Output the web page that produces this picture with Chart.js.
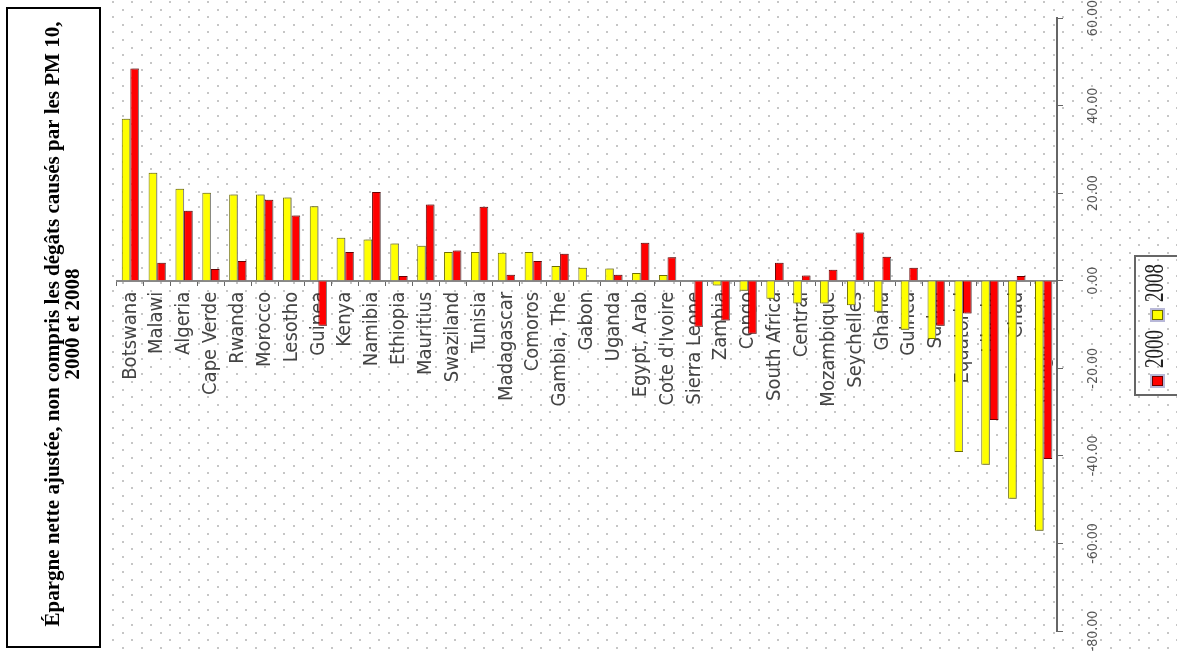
<!DOCTYPE html>
<html><head><meta charset="utf-8">
<script src="https://cdn.jsdelivr.net/npm/chart.js@4.4.1/dist/chart.umd.min.js"></script>
<style>html,body{margin:0;padding:0;background:#fff;overflow:hidden}canvas{display:block}</style>
</head><body>
<canvas id="c" width="1177" height="654"></canvas>
<script>
// ---------------- data ----------------
const categories = ['Botswana','Malawi','Algeria','Cape Verde','Rwanda','Morocco','Lesotho','Guinea','Kenya','Namibia',
  'Ethiopia','Mauritius','Swaziland','Tunisia','Madagascar','Comoros','Gambia, The','Gabon','Uganda','Egypt, Arab',
  "Cote d'Ivoire",'Sierra Leone','Zambia','Congo','South Africa','Central','Mozambique','Seychelles','Ghana','Guinea',
  'Sudan','Equatorial','Liberia','Chad','Congo, Dem'];
// yellow series
const values2008 = [37.0,24.7,21.0,20.1,19.7,19.7,19.0,17.0,9.8,9.4,
  8.5,8.0,6.6,6.6,6.4,6.6,3.4,3.0,2.8,1.8,
  1.3,null,-1.1,-2.3,-4.1,-5.2,-5.2,-5.6,-7.1,-11.2,
  -13.3,-39.1,-42.0,-49.8,-57.1];
// red series
const values2000 = [48.5,4.1,16.0,2.7,4.5,18.5,14.9,-10.3,6.6,20.3,
  1.1,17.4,6.9,16.9,1.4,4.5,6.2,null,1.4,8.7,
  5.4,-10.5,-9.1,-12.1,4.1,1.2,2.5,11.0,5.5,3.0,
  -10.3,-7.5,-31.8,1.1,-40.7];
const seriesNames = ['2008','2000'];
const titleLines = ['Épargne nette ajustée, non compris les dégâts causés par les PM 10,','2000 et 2008'];
const yMin = -80, yMax = 60, yStep = 20;

// ---------------- fonts ----------------
function fontAvailable(name){
  const c = document.createElement('canvas').getContext('2d');
  const s = 'abcdefghijklmnopqrstuvwxyz0123456789ABCDEFGH';
  c.font = '40px monospace'; const a = c.measureText(s).width;
  c.font = '40px "' + name + '", monospace'; const b = c.measureText(s).width;
  return Math.abs(a - b) > 0.5;
}
let sansFamily = '"Liberation Sans", Arial, sans-serif';
for (const f of ['Liberation Sans Narrow','DejaVu Sans Condensed']) {
  if (fontAvailable(f)) { sansFamily = '"' + f + '", "Liberation Sans", sans-serif'; break; }
}
const mctx = document.createElement('canvas').getContext('2d');
function widthAt(text, size, fam){ mctx.font = size + 'px ' + fam; return mctx.measureText(text).width; }
const xSize = Math.round(86 * 100 / widthAt('Botswana', 100, sansFamily));
const ySize = Math.round(36 * 100 / widthAt('40.00', 100, sansFamily));
const yWidest = widthAt('-80.00', ySize, sansFamily);
const plotRight = 1057, yLabelCenter = 1093, yTick = 6;
const yPad = Math.max(2, yLabelCenter - plotRight - yTick - yWidest / 2);
const yScaleWidth = yTick + ySize * 1.2 + 2 * yPad;
const rightPad = Math.max(0, 1177 - plotRight - yScaleWidth);

// ---------------- plugins ----------------
const bgPlugin = {
  id: 'bg',
  beforeDraw(chart) {
    const ctx = chart.ctx;
    ctx.save();
    ctx.fillStyle = '#ffffff';
    ctx.fillRect(0, 0, chart.width, chart.height);
    ctx.fillStyle = '#c6c6c6';
    let row = 0;
    for (let y = 1; y < chart.height; y += 7.6, row++) {
      const off = (row % 2) ? 9.5 : 0;
      for (let x = 112 + off; x < chart.width; x += 19) {
        ctx.fillRect(Math.round(x), Math.round(y), 2, 2);
      }
    }
    ctx.restore();
  }
};
const shadowPlugin = {
  id: 'barShadow',
  beforeDatasetsDraw(chart) {
    const ctx = chart.ctx;
    ctx.save();
    ctx.shadowColor = '#8a8a8a';
    ctx.shadowOffsetX = 2;
    ctx.shadowOffsetY = 0;
    ctx.shadowBlur = 0;
  },
  afterDatasetsDraw(chart) { chart.ctx.restore(); }
};
const frameLegendPlugin = {
  id: 'frameLegend',
  afterDraw(chart) {
    const ctx = chart.ctx;
    ctx.save();
    // title frame
    ctx.strokeStyle = '#000';
    ctx.lineWidth = 2;
    ctx.strokeRect(7, 8, 93, 639);
    // legend (rotated, like the rest of the picture)
    ctx.strokeStyle = '#666';
    ctx.lineWidth = 2;
    ctx.beginPath(); ctx.rect(1135, 256, 60, 139); ctx.stroke();
    const ds = chart.data.datasets;
    const order = ds.map((d, i) => i).reverse();
    order.forEach((di, k) => {
      const d = ds[di];
      const swY = 381 - k * 66, txtY = 349 - k * 66;
      ctx.fillStyle = '#b8b8d8';
      ctx.fillRect(1150, swY - 7, 15, 14);
      ctx.fillStyle = d.backgroundColor;
      ctx.strokeStyle = d.borderColor;
      ctx.lineWidth = 1;
      ctx.fillRect(1152, swY - 5, 11, 10);
      ctx.strokeRect(1152.5, swY - 4.5, 10, 9);
      ctx.save();
      ctx.translate(1155, txtY);
      ctx.rotate(-Math.PI / 2);
      ctx.scale(0.68, 1);
      ctx.font = '28px "Liberation Serif", "Times New Roman", serif';
      ctx.fillStyle = '#222';
      ctx.textAlign = 'center';
      ctx.textBaseline = 'middle';
      ctx.fillText(d.label, 0, 1);
      ctx.restore();
    });
    ctx.restore();
  }
};

// ---------------- chart ----------------
new Chart(document.getElementById('c'), {
  type: 'bar',
  data: {
    labels: categories,
    datasets: [
      { label: seriesNames[0], data: values2008, backgroundColor: '#ffff00', borderColor: '#6f6f00',
        borderWidth: 1, categoryPercentage: 0.64, barPercentage: 1.0 },
      { label: seriesNames[1], data: values2000, backgroundColor: '#ff0000', borderColor: '#6a0000',
        borderWidth: 1, categoryPercentage: 0.64, barPercentage: 1.0 }
    ]
  },
  options: {
    responsive: false,
    devicePixelRatio: 1,
    animation: false,
    events: [],
    layout: { padding: { left: 0, top: 17, bottom: 23, right: rightPad } },
    plugins: {
      legend: { display: false },
      tooltip: { enabled: false },
      title: {
        display: true, position: 'left', text: titleLines, color: '#000',
        font: { family: '"Liberation Serif", "Times New Roman", serif', size: 21, weight: 'bold', lineHeight: 0.95 },
        padding: { top: 44, bottom: 33 }
      }
    },
    scales: {
      x: {
        position: { y: 0 },
        z: 1,
        offset: true,
        grid: { display: true, drawOnChartArea: false, drawTicks: true, tickLength: 4, color: '#666', offset: true },
        border: { display: true, color: '#888', width: 2 },
        ticks: { autoSkip: false, minRotation: 90, maxRotation: 90, padding: 7, color: '#444',
          font: { family: sansFamily, size: xSize } }
      },
      y: {
        position: 'right',
        min: yMin, max: yMax,
        grid: { drawOnChartArea: false, tickLength: yTick, color: '#666' },
        border: { display: true, color: '#666', width: 2 },
        ticks: { stepSize: yStep, minRotation: 90, maxRotation: 90, crossAlign: 'center', padding: yPad,
          color: '#555', font: { family: sansFamily, size: ySize },
          callback: (v) => Number(v).toFixed(2) }
      }
    }
  },
  plugins: [bgPlugin, shadowPlugin, frameLegendPlugin]
});
</script>
</body></html>
